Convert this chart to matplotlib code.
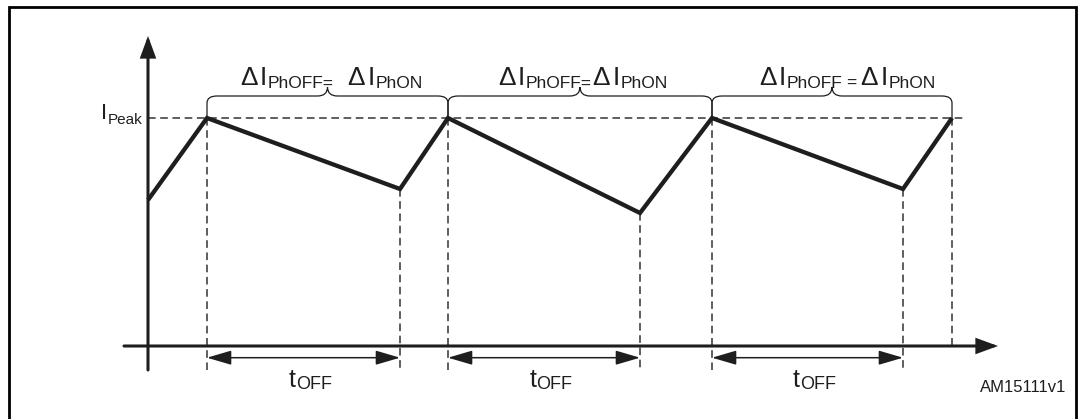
import matplotlib
matplotlib.use('Agg')
import matplotlib.pyplot as plt
import matplotlib.transforms as mtransforms
from matplotlib.path import Path
from matplotlib.patches import PathPatch, Rectangle

plt.rcParams['font.family'] = ['Liberation Sans', 'DejaVu Sans']

# phase current waveform corners (time and current in arbitrary units)
t_pts = [0.0, 5.9, 25.2, 30.0, 49.2, 56.4, 75.5, 80.4]
i_pts = [14.6, 22.8, 15.7, 22.8, 13.3, 22.8, 15.7, 22.8]
i_peak = 22.8
peak_t = [5.9, 30.0, 56.4, 80.4]
valley_t = [25.2, 49.2, 75.5]
valley_i = [15.7, 13.3, 15.7]

INK = '#1e1e1e'

fig = plt.figure(figsize=(10.82, 4.19), dpi=100)
ax = fig.add_axes([0, 0, 1, 1])
ax.set_xlim(-14.8, 93.4)
ax.set_ylim(-7.3, 34.6)
ax.axis('off')

renderer = fig.canvas.get_renderer()


def rich_text(x, y, parts, ha='left'):
    # parts: (string, fontsize, baseline shift px, gap after px)
    arts, widths = [], []
    for s, size, dy, gap in parts:
        txt = ax.text(x, y, s, fontsize=size, va='baseline', ha='left', color=INK)
        arts.append(txt)
        widths.append(txt.get_window_extent(renderer).width + gap)
    total = sum(widths)
    ox = {'left': 0, 'center': -total / 2, 'right': -total}[ha]
    for txt, w, p in zip(arts, widths, parts):
        txt.set_transform(mtransforms.offset_copy(ax.transData, fig=fig, x=ox, y=p[2], units='dots'))
        ox += w


def brace(t0, t1, y_leg=24.3, y_bar=25.0, y_tip=25.9, rx=1.0):
    xc = (t0 + t1) / 2
    verts = [(t0, i_peak), (t0, y_leg), (t0, y_bar), (t0 + rx, y_bar),
             (xc - rx, y_bar), (xc, y_bar), (xc, y_tip), (xc, y_bar), (xc + rx, y_bar),
             (t1 - rx, y_bar), (t1, y_bar), (t1, y_leg), (t1, i_peak)]
    codes = [Path.MOVETO, Path.LINETO, Path.CURVE3, Path.CURVE3,
             Path.LINETO, Path.CURVE3, Path.CURVE3, Path.CURVE3, Path.CURVE3,
             Path.LINETO, Path.CURVE3, Path.CURVE3, Path.LINETO]
    ax.add_patch(PathPatch(Path(verts, codes), fill=False, lw=0.9, ec=INK))


dash = dict(ls=(0, (5, 3)), lw=1.1, color='#333333', zorder=1)

# peak current level and the switching instants
ax.plot([0, 81.5], [i_peak, i_peak], **dash)
for t in peak_t[:-1]:
    ax.plot([t, t], [i_peak, -2.4], **dash)
ax.plot([peak_t[-1], peak_t[-1]], [i_peak, 0], **dash)
for t, i in zip(valley_t, valley_i):
    ax.plot([t, t], [i, -2.4], **dash)

# axes with arrow heads
axis_arrow = dict(arrowstyle='-|>,head_length=0.6,head_width=0.22', lw=2.2, color=INK,
                  shrinkA=0, shrinkB=0, mutation_scale=20, joinstyle='miter')
ax.annotate('', xy=(0, 31.0), xytext=(0, -2.4), arrowprops=axis_arrow)
ax.annotate('', xy=(85.0, 0), xytext=(-2.4, 0), arrowprops=axis_arrow)

# current waveform
ax.plot(t_pts, i_pts, lw=3.1, color=INK, solid_joinstyle='miter', solid_capstyle='butt', zorder=3)

# off-time spans
for a, b in zip(peak_t[:-1], valley_t):
    ax.annotate('', xy=(b, -1.17), xytext=(a, -1.17),
                arrowprops=dict(arrowstyle='<|-|>,head_length=0.75,head_width=0.22', lw=1.1,
                                color=INK, shrinkA=0, shrinkB=0, mutation_scale=20))
    rich_text((a + b) / 2 + 0.7, -4.1, [('t', 18, 0, 0), ('OFF', 13, -2, 0)], ha='center')

# ripple braces between consecutive peaks
for a, b in zip(peak_t[:-1], peak_t[1:]):
    brace(a, b)

rich_text(9.2, 26.1, [('Δ', 19, 0, 2), ('I', 19, 0, 1), ('PhOFF=', 12.5, -3, 14),
                      ('Δ', 19, 0, 2), ('I', 19, 0, 1), ('PhON', 12.5, -3, 0)])
rich_text(35.0, 26.1, [('Δ', 19, 0, 2), ('I', 19, 0, 1), ('PhOFF=', 12.5, -3, 1),
                       ('Δ', 19, 0, 2), ('I', 19, 0, 1), ('PhON', 12.5, -3, 0)])
rich_text(61.1, 26.1, [('Δ', 19, 0, 2), ('I', 19, 0, 1), ('PhOFF', 12.5, -3, 4), ('=', 12.5, -3, 4),
                       ('Δ', 19, 0, 2), ('I', 19, 0, 1), ('PhON', 12.5, -3, 0)])

rich_text(-0.5, 22.7, [('I', 16, 0, 1), ('Peak', 11, -5, 0)], ha='right')

ax.text(87.5, -4.6, 'AM15111v1', fontsize=12, ha='center', va='baseline', color=INK)

# frame
fig.add_artist(Rectangle((9 / 1082, -0.1), (1076 - 9) / 1082, 0.1 + (419 - 7) / 419,
                         transform=fig.transFigure, fill=False, lw=2, ec='black'))

fig.savefig('out.png', dpi=100)
